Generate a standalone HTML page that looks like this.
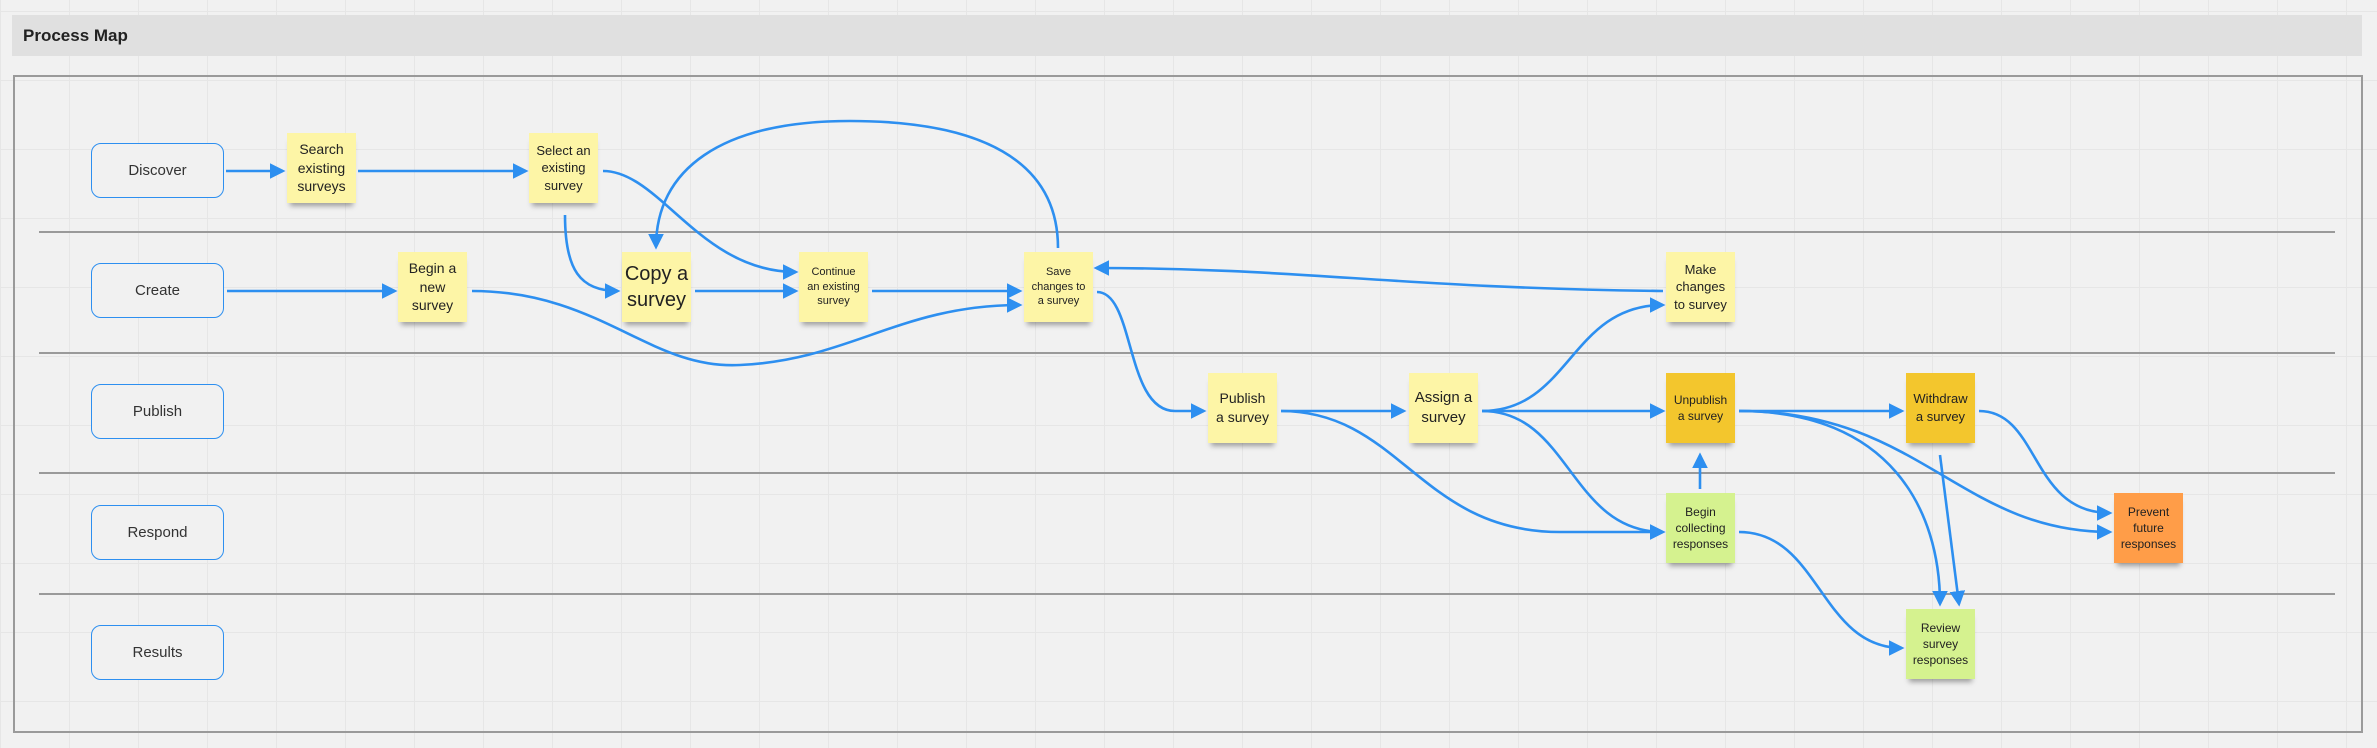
<!DOCTYPE html>
<html><head><meta charset="utf-8"><style>
body{margin:0;width:2377px;height:748px;overflow:hidden;background:#f1f1f1;font-family:"Liberation Sans",sans-serif;position:relative;
background-image:linear-gradient(#e6e6e6 1px,transparent 1px),linear-gradient(90deg,#e6e6e6 1px,transparent 1px);background-size:69px 69px;background-position:0 11px;}
.hdr{position:absolute;left:12px;top:15px;width:2350px;height:41px;background:#e0e0e0;}
.hdr span{position:absolute;left:11px;top:11px;font-weight:bold;font-size:17px;color:#222;}
.frame{position:absolute;left:13px;top:75px;width:2346px;height:654px;border:2px solid #9a9a9a;}
.line{position:absolute;left:39px;width:2296px;height:1.5px;background:#9a9a9a;}
.lane{position:absolute;left:91px;width:131px;height:53px;border:1.5px solid #2d8ff0;border-radius:10px;display:flex;align-items:center;justify-content:center;font-size:15px;color:#333;background:#f1f1f1;}
.st{position:absolute;width:69px;height:70px;display:flex;align-items:center;justify-content:center;text-align:center;font-size:13px;line-height:1.35;color:#222;box-shadow:0 6px 5px -3px rgba(0,0,0,.35);}
.y{background:#fdf5a6}.o{background:#f3c62d}.g{background:#d5f28f}.r{background:#ff9d48}
svg{position:absolute;left:0;top:0}
</style></head><body>
<div class="hdr"><span>Process Map</span></div>
<div class="frame"></div>
<div class="line" style="top:231px"></div><div class="line" style="top:352px"></div>
<div class="line" style="top:472px"></div><div class="line" style="top:593px"></div>
<div class="lane" style="top:143px">Discover</div>
<div class="lane" style="top:263px">Create</div>
<div class="lane" style="top:384px">Publish</div>
<div class="lane" style="top:505px">Respond</div>
<div class="lane" style="top:625px">Results</div>

<div class="st y" style="left:287px;top:133px;font-size:14px">Search<br>existing<br>surveys</div>
<div class="st y" style="left:529px;top:133px">Select an<br>existing<br>survey</div>
<div class="st y" style="left:398px;top:252px;font-size:14px">Begin a<br>new<br>survey</div>
<div class="st y" style="left:622px;top:252px;font-size:20px;line-height:1.3">Copy a<br>survey</div>
<div class="st y" style="left:799px;top:252px;font-size:11px">Continue<br>an existing<br>survey</div>
<div class="st y" style="left:1024px;top:252px;font-size:11px">Save<br>changes to<br>a survey</div>
<div class="st y" style="left:1666px;top:252px">Make<br>changes<br>to survey</div>
<div class="st y" style="left:1208px;top:373px;font-size:14px">Publish<br>a survey</div>
<div class="st y" style="left:1409px;top:373px;font-size:15px">Assign a<br>survey</div>
<div class="st o" style="left:1666px;top:373px;font-size:12px">Unpublish<br>a survey</div>
<div class="st o" style="left:1906px;top:373px">Withdraw<br>a survey</div>
<div class="st g" style="left:1666px;top:493px;font-size:12px">Begin<br>collecting<br>responses</div>
<div class="st r" style="left:2114px;top:493px;font-size:12px">Prevent<br>future<br>responses</div>
<div class="st g" style="left:1906px;top:609px;font-size:12px">Review<br>survey<br>responses</div>

<svg width="2377" height="748" viewBox="0 0 2377 748">
<defs><marker id="a" markerWidth="6" markerHeight="6" refX="5" refY="3" orient="auto" markerUnits="strokeWidth"><path d="M0,0 L6,3 L0,6 z" fill="#2d8ff0"/></marker></defs>
<g fill="none" stroke="#2d8ff0" stroke-width="2.6" marker-end="url(#a)">
<path d="M226,171 L283,171"/>
<path d="M358,171 L526,171"/>
<path d="M603,171 C660,171 700,272 796,272"/>
<path d="M565,215 C565,270 580,291 618,291"/>
<path d="M227,291 L395,291"/>
<path d="M472,291 C600,291 650,370 740,365 C850,360 900,305 1020,305"/>
<path d="M695,291 L796,291"/>
<path d="M872,291 L1020,291"/>
<path d="M1058,248 C1058,160 980,121 850,121 C720,121 656,170 656,247"/>
<path d="M1663,291 C1400,288 1300,268 1096,268"/>
<path d="M1097,292 C1135,292 1125,411 1175,411 L1204,411"/>
<path d="M1281,411 L1404,411"/>
<path d="M1281,411 C1400,411 1420,532 1560,532 L1663,532"/>
<path d="M1482,411 C1570,411 1570,305 1663,305"/>
<path d="M1482,411 L1663,411"/>
<path d="M1482,411 C1570,411 1570,532 1663,532"/>
<path d="M1700,489 L1700,455"/>
<path d="M1739,411 L1902,411"/>
<path d="M1739,411 C1890,411 1940,510 1940,604"/>
<path d="M1739,411 C1920,411 1960,532 2110,532"/>
<path d="M1979,411 C2040,411 2030,513 2110,513"/>
<path d="M1940,455 L1959,604"/>
<path d="M1739,532 C1820,532 1820,648 1902,648"/>
</g></svg>
</body></html>
